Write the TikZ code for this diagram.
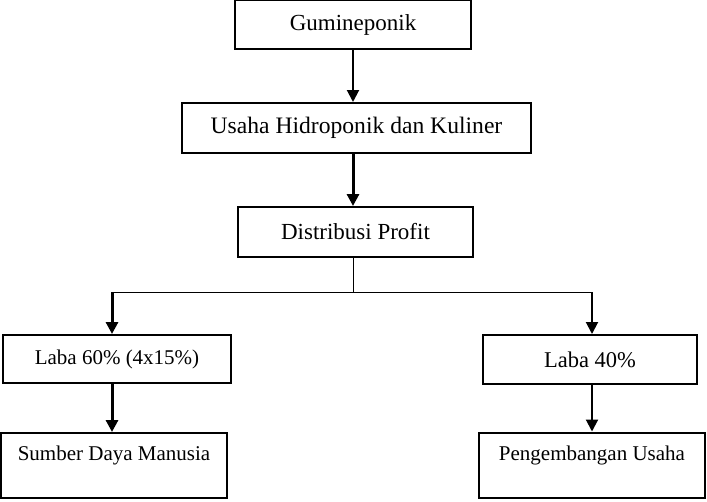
\documentclass[tikz,border=0pt]{standalone}
\usepackage{fontspec}
\setmainfont{Liberation Serif}
\usetikzlibrary{positioning,arrows.meta}

\begin{document}
\begin{tikzpicture}[x=1pt, y=-1pt,
  box/.style={draw, line width=2pt, inner sep=0pt, font=\fontsize{21}{24}\selectfont},
  bigbox/.style={box, font=\fontsize{23}{26}\selectfont},
  tallbox/.style={box, minimum width=226pt, minimum height=65pt, text depth=24pt},
  ar/.style={-{Triangle[length=12pt,width=12pt]}, line width=2pt},
  arthick/.style={ar, line width=3pt}]
  \useasboundingbox (0,0) rectangle (707,501);

  \node[bigbox, minimum width=236pt, minimum height=49pt] (gum) at (353,24.5) {Gumineponik};
  \node[bigbox, minimum width=349pt, minimum height=50pt, font=\fontsize{23.6}{26}\selectfont] (usaha) at (356.5,128) {Usaha Hidroponik dan Kuliner};
  \node[bigbox, minimum width=235pt, minimum height=50pt] (dist) at (355.5,232) {Distribusi Profit};
  \node[box, minimum width=228pt, minimum height=48pt] (l60) at (117,359) {Laba 60\% (4x15\%)};
  \node[box, minimum width=214pt, minimum height=49pt, font=\fontsize{22.5}{25}\selectfont] (l40) at (590,359.5) {Laba 40\%};
  \node[tallbox] (sdm) at (114,465.5) {Sumber Daya Manusia};
  \node[tallbox] (peng) at (592,465) {Pengembangan Usaha};

  \coordinate (split) at (353,292);
  \coordinate (jl) at (112,292);
  \coordinate (jr) at (592,292);

  \draw[ar] (gum.south -| split) -- (usaha.north -| split);
  \draw[arthick] (usaha.south -| split) -- (dist.north -| split);
  \draw[line width=1pt] (dist.south -| split) -- (split);
  \draw[line width=1pt] (jl) -- (jr);
  \draw[arthick] (jl) -- (l60.north -| jl);
  \draw[ar] (jr) -- (l40.north -| jr);
  \draw[arthick] (l60.south -| jl) -- (sdm.north -| jl);
  \draw[ar] (l40.south -| jr) -- (peng.north -| jr);
\end{tikzpicture}
\end{document}
